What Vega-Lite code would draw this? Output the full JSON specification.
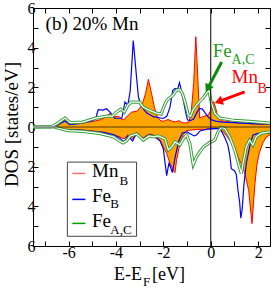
{
"$schema": "https://vega.github.io/schema/vega-lite/v6.json",
"width": 237, "height": 238,
"autosize": {"type": "none"},
"padding": {"left": 33, "top": 8, "right": 3, "bottom": 42},
"background": "white",
"config": {
  "view": {"stroke": "black", "strokeWidth": 1},
  "axis": {"grid": false, "domain": false, "tickColor": "black", "tickSize": -5, "labelFont": "Liberation Serif", "labelFontSize": 16, "labelColor": "black", "titleFont": "Liberation Serif", "titleFontSize": 19, "titleFontWeight": "normal", "titleColor": "black", "labelPadding": 3, "labelOverlap": false, "labelFlush": false},
  "text": {"font": "Liberation Serif"}
},
"datasets": {
"dos": [
{"s":"Mn","p":"u","E":-7.5,"v":0},{"s":"Mn","p":"u","E":-6.7,"v":0},{"s":"Mn","p":"u","E":-6.45,"v":0.12},{"s":"Mn","p":"u","E":-6.15,"v":0.35},{"s":"Mn","p":"u","E":-5.95,"v":0.15},{"s":"Mn","p":"u","E":-5.5,"v":0.18},{"s":"Mn","p":"u","E":-5.0,"v":0.28},{"s":"Mn","p":"u","E":-4.6,"v":0.38},{"s":"Mn","p":"u","E":-4.35,"v":0.6},{"s":"Mn","p":"u","E":-4.25,"v":0.68},{"s":"Mn","p":"u","E":-4.1,"v":0.5},{"s":"Mn","p":"u","E":-3.9,"v":0.55},{"s":"Mn","p":"u","E":-3.7,"v":0.35},{"s":"Mn","p":"u","E":-3.55,"v":0.5},{"s":"Mn","p":"u","E":-3.35,"v":0.75},{"s":"Mn","p":"u","E":-3.1,"v":0.8},{"s":"Mn","p":"u","E":-2.9,"v":1.1},{"s":"Mn","p":"u","E":-2.75,"v":1.7},{"s":"Mn","p":"u","E":-2.63,"v":2.4},{"s":"Mn","p":"u","E":-2.5,"v":1.7},{"s":"Mn","p":"u","E":-2.38,"v":1.0},{"s":"Mn","p":"u","E":-2.25,"v":0.5},{"s":"Mn","p":"u","E":-2.1,"v":0.3},{"s":"Mn","p":"u","E":-1.95,"v":0.3},{"s":"Mn","p":"u","E":-1.8,"v":0.38},{"s":"Mn","p":"u","E":-1.65,"v":0.3},{"s":"Mn","p":"u","E":-1.5,"v":0.25},{"s":"Mn","p":"u","E":-1.35,"v":0.32},{"s":"Mn","p":"u","E":-1.2,"v":0.22},{"s":"Mn","p":"u","E":-1.05,"v":0.2},{"s":"Mn","p":"u","E":-0.92,"v":0.25},{"s":"Mn","p":"u","E":-0.82,"v":0.8},{"s":"Mn","p":"u","E":-0.72,"v":2.2},{"s":"Mn","p":"u","E":-0.63,"v":4.55},{"s":"Mn","p":"u","E":-0.55,"v":2.6},{"s":"Mn","p":"u","E":-0.47,"v":0.45},{"s":"Mn","p":"u","E":-0.38,"v":0.5},{"s":"Mn","p":"u","E":-0.25,"v":0.55},{"s":"Mn","p":"u","E":-0.1,"v":0.6},{"s":"Mn","p":"u","E":0.0,"v":0.85},{"s":"Mn","p":"u","E":0.05,"v":1.1},{"s":"Mn","p":"u","E":0.12,"v":1.28},{"s":"Mn","p":"u","E":0.2,"v":1.0},{"s":"Mn","p":"u","E":0.3,"v":0.45},{"s":"Mn","p":"u","E":0.45,"v":0.32},{"s":"Mn","p":"u","E":0.7,"v":0.28},{"s":"Mn","p":"u","E":1.0,"v":0.22},{"s":"Mn","p":"u","E":1.5,"v":0.18},{"s":"Mn","p":"u","E":2.0,"v":0.14},{"s":"Mn","p":"u","E":2.5,"v":0.12},
{"s":"Mn","p":"d","E":-7.5,"v":0},{"s":"Mn","p":"d","E":-6.7,"v":0},{"s":"Mn","p":"d","E":-6.4,"v":-0.06},{"s":"Mn","p":"d","E":-6.1,"v":-0.12},{"s":"Mn","p":"d","E":-5.5,"v":-0.14},{"s":"Mn","p":"d","E":-5.0,"v":-0.2},{"s":"Mn","p":"d","E":-4.5,"v":-0.26},{"s":"Mn","p":"d","E":-4.1,"v":-0.38},{"s":"Mn","p":"d","E":-3.85,"v":-0.5},{"s":"Mn","p":"d","E":-3.65,"v":-0.6},{"s":"Mn","p":"d","E":-3.5,"v":-0.4},{"s":"Mn","p":"d","E":-3.3,"v":-0.6},{"s":"Mn","p":"d","E":-3.12,"v":-0.3},{"s":"Mn","p":"d","E":-2.85,"v":-0.55},{"s":"Mn","p":"d","E":-2.6,"v":-0.35},{"s":"Mn","p":"d","E":-2.42,"v":-0.4},{"s":"Mn","p":"d","E":-2.14,"v":-0.66},{"s":"Mn","p":"d","E":-2.0,"v":-1.0},{"s":"Mn","p":"d","E":-1.86,"v":-1.33},{"s":"Mn","p":"d","E":-1.72,"v":-1.84},{"s":"Mn","p":"d","E":-1.58,"v":-2.17},{"s":"Mn","p":"d","E":-1.51,"v":-2.3},{"s":"Mn","p":"d","E":-1.44,"v":-1.67},{"s":"Mn","p":"d","E":-1.3,"v":-0.82},{"s":"Mn","p":"d","E":-1.16,"v":-0.4},{"s":"Mn","p":"d","E":-1.02,"v":-0.18},{"s":"Mn","p":"d","E":-0.8,"v":-0.15},{"s":"Mn","p":"d","E":-0.5,"v":-0.12},{"s":"Mn","p":"d","E":-0.2,"v":-0.12},{"s":"Mn","p":"d","E":0.0,"v":-0.1},{"s":"Mn","p":"d","E":0.3,"v":-0.08},{"s":"Mn","p":"d","E":0.5,"v":-0.2},{"s":"Mn","p":"d","E":0.7,"v":-0.5},{"s":"Mn","p":"d","E":0.87,"v":-0.8},{"s":"Mn","p":"d","E":1.0,"v":-1.0},{"s":"Mn","p":"d","E":1.15,"v":-1.5},{"s":"Mn","p":"d","E":1.3,"v":-1.9},{"s":"Mn","p":"d","E":1.43,"v":-2.3},{"s":"Mn","p":"d","E":1.6,"v":-3.2},{"s":"Mn","p":"d","E":1.74,"v":-4.87},{"s":"Mn","p":"d","E":1.8,"v":-3.9},{"s":"Mn","p":"d","E":1.87,"v":-2.8},{"s":"Mn","p":"d","E":1.95,"v":-1.9},{"s":"Mn","p":"d","E":2.05,"v":-1.3},{"s":"Mn","p":"d","E":2.2,"v":-0.8},{"s":"Mn","p":"d","E":2.35,"v":-0.5},{"s":"Mn","p":"d","E":2.5,"v":-0.4},
{"s":"FeB","p":"u","E":-7.5,"v":0},{"s":"FeB","p":"u","E":-6.7,"v":0},{"s":"FeB","p":"u","E":-6.45,"v":0.1},{"s":"FeB","p":"u","E":-6.15,"v":0.3},{"s":"FeB","p":"u","E":-5.95,"v":0.12},{"s":"FeB","p":"u","E":-5.5,"v":0.18},{"s":"FeB","p":"u","E":-5.0,"v":0.3},{"s":"FeB","p":"u","E":-4.85,"v":0.45},{"s":"FeB","p":"u","E":-4.75,"v":0.87},{"s":"FeB","p":"u","E":-4.55,"v":0.85},{"s":"FeB","p":"u","E":-4.4,"v":0.92},{"s":"FeB","p":"u","E":-4.25,"v":0.75},{"s":"FeB","p":"u","E":-4.05,"v":0.44},{"s":"FeB","p":"u","E":-3.75,"v":0.44},{"s":"FeB","p":"u","E":-3.62,"v":1.26},{"s":"FeB","p":"u","E":-3.5,"v":1.1},{"s":"FeB","p":"u","E":-3.4,"v":1.8},{"s":"FeB","p":"u","E":-3.27,"v":4.36},{"s":"FeB","p":"u","E":-3.12,"v":2.37},{"s":"FeB","p":"u","E":-3.05,"v":1.5},{"s":"FeB","p":"u","E":-2.91,"v":1.0},{"s":"FeB","p":"u","E":-2.7,"v":0.7},{"s":"FeB","p":"u","E":-2.42,"v":0.52},{"s":"FeB","p":"u","E":-2.0,"v":0.43},{"s":"FeB","p":"u","E":-1.85,"v":0.55},{"s":"FeB","p":"u","E":-1.72,"v":1.0},{"s":"FeB","p":"u","E":-1.6,"v":1.85},{"s":"FeB","p":"u","E":-1.5,"v":1.95},{"s":"FeB","p":"u","E":-1.4,"v":1.9},{"s":"FeB","p":"u","E":-1.32,"v":2.24},{"s":"FeB","p":"u","E":-1.25,"v":1.9},{"s":"FeB","p":"u","E":-1.15,"v":1.3},{"s":"FeB","p":"u","E":-1.05,"v":0.7},{"s":"FeB","p":"u","E":-0.98,"v":0.35},{"s":"FeB","p":"u","E":-0.85,"v":0.33},{"s":"FeB","p":"u","E":-0.72,"v":0.4},{"s":"FeB","p":"u","E":-0.6,"v":0.7},{"s":"FeB","p":"u","E":-0.48,"v":0.94},{"s":"FeB","p":"u","E":-0.35,"v":0.9},{"s":"FeB","p":"u","E":-0.2,"v":0.65},{"s":"FeB","p":"u","E":-0.1,"v":0.5},{"s":"FeB","p":"u","E":0.0,"v":0.38},{"s":"FeB","p":"u","E":0.2,"v":0.3},{"s":"FeB","p":"u","E":0.5,"v":0.25},{"s":"FeB","p":"u","E":1.0,"v":0.22},{"s":"FeB","p":"u","E":1.5,"v":0.18},{"s":"FeB","p":"u","E":2.0,"v":0.16},{"s":"FeB","p":"u","E":2.5,"v":0.15},
{"s":"FeB","p":"d","E":-7.5,"v":0},{"s":"FeB","p":"d","E":-6.7,"v":0},{"s":"FeB","p":"d","E":-6.4,"v":-0.06},{"s":"FeB","p":"d","E":-6.1,"v":-0.12},{"s":"FeB","p":"d","E":-5.5,"v":-0.15},{"s":"FeB","p":"d","E":-5.0,"v":-0.22},{"s":"FeB","p":"d","E":-4.5,"v":-0.28},{"s":"FeB","p":"d","E":-4.1,"v":-0.4},{"s":"FeB","p":"d","E":-3.85,"v":-0.55},{"s":"FeB","p":"d","E":-3.65,"v":-0.75},{"s":"FeB","p":"d","E":-3.5,"v":-0.45},{"s":"FeB","p":"d","E":-3.3,"v":-0.7},{"s":"FeB","p":"d","E":-3.12,"v":-0.3},{"s":"FeB","p":"d","E":-2.85,"v":-0.6},{"s":"FeB","p":"d","E":-2.6,"v":-0.38},{"s":"FeB","p":"d","E":-2.42,"v":-0.45},{"s":"FeB","p":"d","E":-2.14,"v":-0.7},{"s":"FeB","p":"d","E":-2.0,"v":-1.1},{"s":"FeB","p":"d","E":-1.86,"v":-2.45},{"s":"FeB","p":"d","E":-1.76,"v":-1.8},{"s":"FeB","p":"d","E":-1.62,"v":-2.3},{"s":"FeB","p":"d","E":-1.5,"v":-1.5},{"s":"FeB","p":"d","E":-1.35,"v":-0.7},{"s":"FeB","p":"d","E":-1.2,"v":-0.3},{"s":"FeB","p":"d","E":-1.0,"v":-0.25},{"s":"FeB","p":"d","E":-0.85,"v":-0.35},{"s":"FeB","p":"d","E":-0.7,"v":-0.45},{"s":"FeB","p":"d","E":-0.6,"v":-0.4},{"s":"FeB","p":"d","E":-0.45,"v":-0.2},{"s":"FeB","p":"d","E":-0.2,"v":-0.12},{"s":"FeB","p":"d","E":0.0,"v":-0.08},{"s":"FeB","p":"d","E":0.3,"v":-0.07},{"s":"FeB","p":"d","E":0.45,"v":-0.2},{"s":"FeB","p":"d","E":0.6,"v":-0.55},{"s":"FeB","p":"d","E":0.72,"v":-0.9},{"s":"FeB","p":"d","E":0.8,"v":-1.4},{"s":"FeB","p":"d","E":0.87,"v":-2.1},{"s":"FeB","p":"d","E":1.0,"v":-2.2},{"s":"FeB","p":"d","E":1.08,"v":-2.4},{"s":"FeB","p":"d","E":1.15,"v":-3.2},{"s":"FeB","p":"d","E":1.22,"v":-3.8},{"s":"FeB","p":"d","E":1.27,"v":-4.6},{"s":"FeB","p":"d","E":1.33,"v":-4.1},{"s":"FeB","p":"d","E":1.4,"v":-2.9},{"s":"FeB","p":"d","E":1.5,"v":-1.85},{"s":"FeB","p":"d","E":1.64,"v":-1.0},{"s":"FeB","p":"d","E":1.78,"v":-0.4},{"s":"FeB","p":"d","E":2.0,"v":-0.32},{"s":"FeB","p":"d","E":2.5,"v":-0.3},
{"s":"FeAC","p":"u","E":-7.5,"v":0},{"s":"FeAC","p":"u","E":-6.7,"v":0.02},{"s":"FeAC","p":"u","E":-6.45,"v":0.2},{"s":"FeAC","p":"u","E":-6.15,"v":0.45},{"s":"FeAC","p":"u","E":-5.93,"v":0.22},{"s":"FeAC","p":"u","E":-5.4,"v":0.25},{"s":"FeAC","p":"u","E":-4.85,"v":0.45},{"s":"FeAC","p":"u","E":-4.4,"v":0.55},{"s":"FeAC","p":"u","E":-4.15,"v":0.55},{"s":"FeAC","p":"u","E":-4.0,"v":0.73},{"s":"FeAC","p":"u","E":-3.8,"v":0.9},{"s":"FeAC","p":"u","E":-3.65,"v":0.75},{"s":"FeAC","p":"u","E":-3.5,"v":1.1},{"s":"FeAC","p":"u","E":-3.35,"v":1.25},{"s":"FeAC","p":"u","E":-3.0,"v":1.25},{"s":"FeAC","p":"u","E":-2.85,"v":1.0},{"s":"FeAC","p":"u","E":-2.6,"v":0.85},{"s":"FeAC","p":"u","E":-2.3,"v":0.7},{"s":"FeAC","p":"u","E":-2.1,"v":0.65},{"s":"FeAC","p":"u","E":-1.95,"v":1.1},{"s":"FeAC","p":"u","E":-1.85,"v":1.35},{"s":"FeAC","p":"u","E":-1.6,"v":1.6},{"s":"FeAC","p":"u","E":-1.45,"v":1.85},{"s":"FeAC","p":"u","E":-1.3,"v":1.88},{"s":"FeAC","p":"u","E":-1.2,"v":1.7},{"s":"FeAC","p":"u","E":-1.05,"v":1.1},{"s":"FeAC","p":"u","E":-0.95,"v":0.6},{"s":"FeAC","p":"u","E":-0.85,"v":0.55},{"s":"FeAC","p":"u","E":-0.75,"v":0.85},{"s":"FeAC","p":"u","E":-0.6,"v":1.1},{"s":"FeAC","p":"u","E":-0.46,"v":1.3},{"s":"FeAC","p":"u","E":-0.3,"v":1.5},{"s":"FeAC","p":"u","E":-0.19,"v":1.7},{"s":"FeAC","p":"u","E":-0.08,"v":1.85},{"s":"FeAC","p":"u","E":0.03,"v":1.2},{"s":"FeAC","p":"u","E":0.17,"v":0.7},{"s":"FeAC","p":"u","E":0.38,"v":0.45},{"s":"FeAC","p":"u","E":1.0,"v":0.33},{"s":"FeAC","p":"u","E":1.64,"v":0.28},{"s":"FeAC","p":"u","E":2.5,"v":0.2},
{"s":"FeAC","p":"d","E":-7.5,"v":0},{"s":"FeAC","p":"d","E":-6.6,"v":0},{"s":"FeAC","p":"d","E":-6.3,"v":-0.1},{"s":"FeAC","p":"d","E":-6.0,"v":-0.18},{"s":"FeAC","p":"d","E":-5.4,"v":-0.22},{"s":"FeAC","p":"d","E":-4.7,"v":-0.32},{"s":"FeAC","p":"d","E":-4.1,"v":-0.5},{"s":"FeAC","p":"d","E":-3.85,"v":-0.7},{"s":"FeAC","p":"d","E":-3.7,"v":-0.8},{"s":"FeAC","p":"d","E":-3.55,"v":-0.7},{"s":"FeAC","p":"d","E":-3.4,"v":-0.45},{"s":"FeAC","p":"d","E":-3.12,"v":-0.35},{"s":"FeAC","p":"d","E":-2.84,"v":-0.66},{"s":"FeAC","p":"d","E":-2.6,"v":-0.45},{"s":"FeAC","p":"d","E":-2.42,"v":-0.5},{"s":"FeAC","p":"d","E":-2.21,"v":-0.45},{"s":"FeAC","p":"d","E":-1.93,"v":-0.6},{"s":"FeAC","p":"d","E":-1.79,"v":-1.16},{"s":"FeAC","p":"d","E":-1.65,"v":-1.0},{"s":"FeAC","p":"d","E":-1.51,"v":-0.75},{"s":"FeAC","p":"d","E":-1.3,"v":-0.9},{"s":"FeAC","p":"d","E":-1.16,"v":-0.6},{"s":"FeAC","p":"d","E":-1.02,"v":-0.4},{"s":"FeAC","p":"d","E":-0.88,"v":-0.85},{"s":"FeAC","p":"d","E":-0.74,"v":-1.9},{"s":"FeAC","p":"d","E":-0.6,"v":-1.5},{"s":"FeAC","p":"d","E":-0.46,"v":-1.25},{"s":"FeAC","p":"d","E":-0.3,"v":-1.0},{"s":"FeAC","p":"d","E":-0.04,"v":-0.78},{"s":"FeAC","p":"d","E":0.17,"v":-0.66},{"s":"FeAC","p":"d","E":0.31,"v":-0.24},{"s":"FeAC","p":"d","E":0.45,"v":-0.02},{"s":"FeAC","p":"d","E":0.59,"v":-0.07},{"s":"FeAC","p":"d","E":0.8,"v":-0.49},{"s":"FeAC","p":"d","E":1.01,"v":-1.16},{"s":"FeAC","p":"d","E":1.15,"v":-1.75},{"s":"FeAC","p":"d","E":1.29,"v":-2.35},{"s":"FeAC","p":"d","E":1.36,"v":-1.84},{"s":"FeAC","p":"d","E":1.5,"v":-0.99},{"s":"FeAC","p":"d","E":1.64,"v":-0.66},{"s":"FeAC","p":"d","E":1.78,"v":-0.91},{"s":"FeAC","p":"d","E":1.92,"v":-0.49},{"s":"FeAC","p":"d","E":2.13,"v":-0.32},{"s":"FeAC","p":"d","E":2.5,"v":-0.24}
],
"one": [{}]
},
"layer": [
{"data": {"name": "dos"}, "transform": [{"filter": "datum.s == 'Mn'"}],
 "mark": {"type": "area", "color": "#ffa500"},
 "encoding": {
  "x": {"field": "E", "type": "quantitative", "scale": {"domain": [-7.5, 2.5], "nice": false, "zero": false},
        "axis": {"orient": "bottom", "values": [-7,-6,-5,-4,-3,-2,-1,0,1,2], "labelExpr": "datum.value % 2 == 0 ? (datum.value < 0 ? '-' + abs(datum.value) : '' + datum.value) : ''", "title": null}},
  "y": {"field": "v", "type": "quantitative", "stack": null, "scale": {"domain": [-6, 6], "nice": false},
        "axis": {"orient": "left", "values": [-6,-5,-4,-3,-2,-1,0,1,2,3,4,5,6], "labelExpr": "datum.value % 2 == 0 ? '' + abs(datum.value) : ''", "title": "DOS [states/eV]", "titleX": -22, "titleY": 116, "titleAngle": 270, "titleAlign": "center", "titleBaseline": "middle"}},
  "detail": {"field": "p"}
 }},
{"data": {"name": "dos"}, "transform": [{"filter": "datum.s == 'Mn'"}],
 "mark": {"type": "line", "color": "#ff0000", "strokeWidth": 1},
 "encoding": {"x": {"field": "E", "type": "quantitative", "axis": null}, "y": {"field": "v", "type": "quantitative", "axis": null}, "detail": {"field": "p"}}},
{"data": {"name": "dos"}, "transform": [{"filter": "datum.s == 'FeB'"}],
 "mark": {"type": "line", "color": "#0000ff", "strokeWidth": 1.2},
 "encoding": {
  "x": {"field": "E", "type": "quantitative", "axis": {"orient": "top", "values": [-7,-6,-5,-4,-3,-2,-1,0,1,2], "labels": false, "title": null}},
  "y": {"field": "v", "type": "quantitative", "axis": {"orient": "right", "values": [-6,-5,-4,-3,-2,-1,0,1,2,3,4,5,6], "labels": false, "title": null}},
  "detail": {"field": "p"}}},
{"data": {"name": "dos"}, "transform": [{"filter": "datum.s == 'FeAC'"}],
 "mark": {"type": "line", "color": "#3a9e3a", "strokeWidth": 3.2},
 "encoding": {"x": {"field": "E", "type": "quantitative", "axis": null}, "y": {"field": "v", "type": "quantitative", "axis": null}, "detail": {"field": "p"}}},
{"data": {"name": "dos"}, "transform": [{"filter": "datum.s == 'FeAC'"}],
 "mark": {"type": "line", "color": "#ffffff", "strokeWidth": 1.2},
 "encoding": {"x": {"field": "E", "type": "quantitative", "axis": null}, "y": {"field": "v", "type": "quantitative", "axis": null}, "detail": {"field": "p"}}},
{"data": {"name": "one"}, "mark": {"type": "rule", "color": "#000000", "opacity": 0.45, "strokeWidth": 1.5}, "encoding": {"y": {"datum": 0, "axis": null}}},
{"data": {"name": "one"}, "mark": {"type": "rule", "color": "#000000", "strokeWidth": 1}, "encoding": {"x": {"datum": 0, "axis": null}}},
{"data": {"name": "one"}, "mark": {"type": "rect", "fill": "#ffffff", "stroke": "#444444", "strokeWidth": 1}, "encoding": {"x": {"datum": -6.05, "axis": null}, "x2": {"datum": -3.13}, "y": {"datum": -1.77, "axis": null}, "y2": {"datum": -5.51}}},
{"data": {"name": "one"}, "mark": {"type": "rule", "color": "#ff7070", "strokeWidth": 1.5}, "encoding": {"x": {"datum": -5.84, "axis": null}, "x2": {"datum": -5.29}, "y": {"datum": -2.34, "axis": null}}},
{"data": {"name": "one"}, "mark": {"type": "rule", "color": "#0000ff", "strokeWidth": 1.5}, "encoding": {"x": {"datum": -5.84, "axis": null}, "x2": {"datum": -5.29}, "y": {"datum": -3.65, "axis": null}}},
{"data": {"name": "one"}, "mark": {"type": "rule", "color": "#00a000", "strokeWidth": 1.5}, "encoding": {"x": {"datum": -5.84, "axis": null}, "x2": {"datum": -5.29}, "y": {"datum": -4.86, "axis": null}}},
{"data": {"name": "one"}, "mark": {"type": "text", "text": "Mn", "align": "left", "baseline": "alphabetic", "fontSize": 19, "color": "black"}, "encoding": {"x": {"datum": -5.01, "axis": null}, "y": {"datum": -2.51, "axis": null}}},
{"data": {"name": "one"}, "mark": {"type": "text", "text": "B", "align": "left", "baseline": "alphabetic", "fontSize": 13, "color": "black"}, "encoding": {"x": {"datum": -3.85, "axis": null}, "y": {"datum": -2.93, "axis": null}}},
{"data": {"name": "one"}, "mark": {"type": "text", "text": "Fe", "align": "left", "baseline": "alphabetic", "fontSize": 19, "color": "black"}, "encoding": {"x": {"datum": -5.01, "axis": null}, "y": {"datum": -3.77, "axis": null}}},
{"data": {"name": "one"}, "mark": {"type": "text", "text": "B", "align": "left", "baseline": "alphabetic", "fontSize": 13, "color": "black"}, "encoding": {"x": {"datum": -4.24, "axis": null}, "y": {"datum": -4.1, "axis": null}}},
{"data": {"name": "one"}, "mark": {"type": "text", "text": "Fe", "align": "left", "baseline": "alphabetic", "fontSize": 19, "color": "black"}, "encoding": {"x": {"datum": -5.01, "axis": null}, "y": {"datum": -5.04, "axis": null}}},
{"data": {"name": "one"}, "mark": {"type": "text", "text": "A,C", "align": "left", "baseline": "alphabetic", "fontSize": 13, "color": "black"}, "encoding": {"x": {"datum": -4.24, "axis": null}, "y": {"datum": -5.37, "axis": null}}},
{"data": {"name": "one"}, "mark": {"type": "text", "text": "(b) 20% Mn", "align": "left", "baseline": "alphabetic", "fontSize": 19, "color": "black"}, "encoding": {"x": {"datum": -6.97, "axis": null}, "y": {"datum": 4.9, "axis": null}}},
{"data": {"name": "one"}, "mark": {"type": "rule", "color": "#0b8a0b", "strokeWidth": 3}, "encoding": {"x": {"datum": 0.46, "axis": null}, "y": {"datum": 3.28, "axis": null}, "x2": {"datum": -0.13}, "y2": {"datum": 1.94}}},
{"data": {"name": "one"}, "mark": {"type": "point", "shape": "triangle-up", "filled": true, "opacity": 1, "color": "#0b8a0b", "size": 90, "angle": 208}, "encoding": {"x": {"datum": -0.13, "axis": null}, "y": {"datum": 1.94, "axis": null}}},
{"data": {"name": "one"}, "mark": {"type": "rule", "color": "#ff0000", "strokeWidth": 3}, "encoding": {"x": {"datum": 1.43, "axis": null}, "y": {"datum": 1.77, "axis": null}, "x2": {"datum": 0.33}, "y2": {"datum": 1.28}}},
{"data": {"name": "one"}, "mark": {"type": "point", "shape": "triangle-up", "filled": true, "opacity": 1, "color": "#ff0000", "size": 90, "angle": 250}, "encoding": {"x": {"datum": 0.33, "axis": null}, "y": {"datum": 1.28, "axis": null}}},
{"data": {"name": "one"}, "mark": {"type": "text", "text": "Fe", "align": "left", "baseline": "alphabetic", "fontSize": 19, "color": "#1e9e1e"}, "encoding": {"x": {"datum": 0.084, "axis": null}, "y": {"datum": 3.54, "axis": null}}},
{"data": {"name": "one"}, "mark": {"type": "text", "text": "A,C", "align": "left", "baseline": "alphabetic", "fontSize": 14, "color": "#1e9e1e"}, "encoding": {"x": {"datum": 0.88, "axis": null}, "y": {"datum": 3.18, "axis": null}}},
{"data": {"name": "one"}, "mark": {"type": "text", "text": "Mn", "align": "left", "baseline": "alphabetic", "fontSize": 19, "color": "#ff0000"}, "encoding": {"x": {"datum": 0.88, "axis": null}, "y": {"datum": 2.22, "axis": null}}},
{"data": {"name": "one"}, "mark": {"type": "text", "text": "B", "align": "left", "baseline": "alphabetic", "fontSize": 14, "color": "#ff0000"}, "encoding": {"x": {"datum": 1.97, "axis": null}, "y": {"datum": 1.72, "axis": null}}},
{"data": {"name": "one"}, "mark": {"type": "text", "text": "E-E", "align": "right", "baseline": "alphabetic", "fontSize": 18, "color": "black"}, "encoding": {"x": {"datum": -2.9, "axis": null}, "y": {"datum": -7.73, "axis": null}}},
{"data": {"name": "one"}, "mark": {"type": "text", "text": "F", "align": "left", "baseline": "alphabetic", "fontSize": 13, "color": "black"}, "encoding": {"x": {"datum": -2.857, "axis": null}, "y": {"datum": -8.03, "axis": null}}},
{"data": {"name": "one"}, "mark": {"type": "text", "text": "[eV]", "align": "left", "baseline": "alphabetic", "fontSize": 18, "color": "black"}, "encoding": {"x": {"datum": -2.48, "axis": null}, "y": {"datum": -7.73, "axis": null}}}
]
}
